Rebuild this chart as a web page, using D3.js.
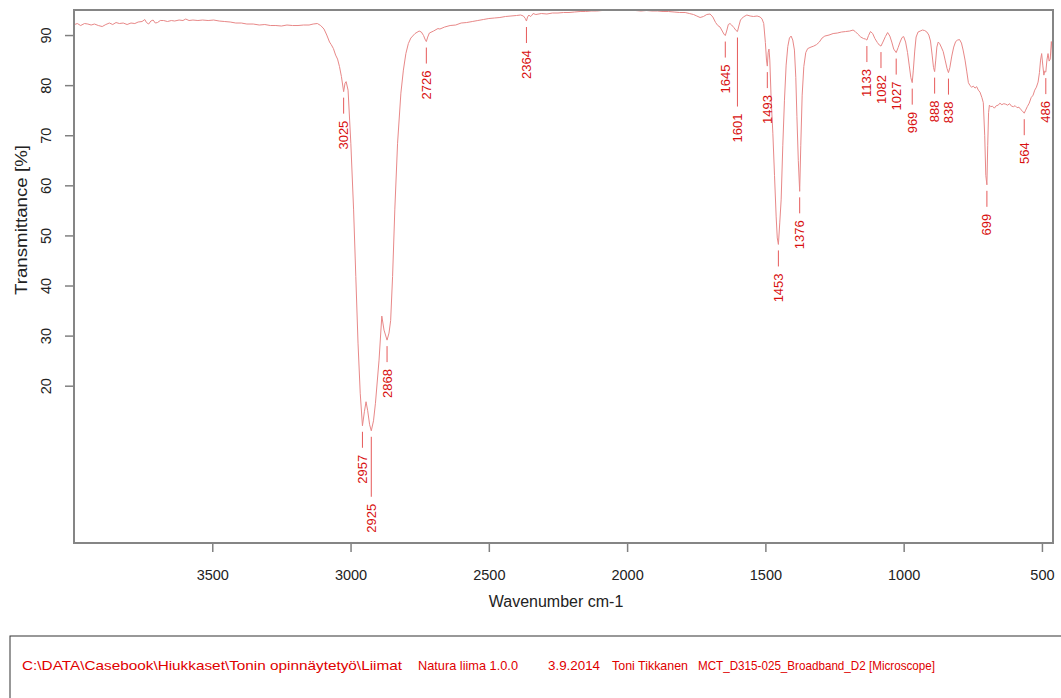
<!DOCTYPE html>
<html>
<head>
<meta charset="utf-8">
<script src="https://cdnjs.cloudflare.com/ajax/libs/d3/7.8.5/d3.min.js"></script>
<style>
body { margin: 0; background: #fff; }
svg { display: block; font-family: "Liberation Sans", Arial, sans-serif; }
</style>
</head>
<body>
<script>

// spectrum (wavenumber cm-1 / transmittance %)
var wavenumber = [
    3998, 3988, 3976, 3962, 3950, 3938, 3926, 3912, 3898, 3885, 3872, 3860, 3848, 3836, 3822, 3808,
    3794, 3780, 3768, 3754, 3744, 3738, 3730, 3722, 3714, 3706, 3698, 3688, 3676, 3662, 3648, 3636,
    3620, 3606, 3596, 3584, 3570, 3552, 3535, 3515, 3495, 3475, 3455, 3435, 3415, 3395, 3375, 3352,
    3330, 3310, 3290, 3270, 3250, 3230, 3210, 3190, 3170, 3150, 3135, 3120, 3108, 3096, 3086, 3076,
    3070, 3062, 3054, 3047, 3040, 3033, 3025, 3020, 3016, 3009, 2999, 2989, 2981, 2973, 2965, 2957,
    2950, 2944, 2938, 2931, 2925, 2917, 2910, 2897, 2887, 2879, 2868, 2861, 2855, 2848, 2840, 2830,
    2818, 2809, 2800, 2791, 2782, 2767, 2752, 2744, 2736, 2731, 2726, 2721, 2715, 2700, 2684, 2677,
    2660, 2640, 2620, 2600, 2580, 2560, 2540, 2520, 2500, 2480, 2460, 2440, 2420, 2400, 2385, 2375,
    2368, 2364, 2360, 2355, 2350, 2345, 2340, 2330, 2310, 2290, 2270, 2250, 2230, 2210, 2190, 2170,
    2150, 2130, 2110, 2090, 2070, 2050, 2030, 2010, 1990, 1970, 1950, 1930, 1910, 1890, 1870, 1850,
    1830, 1810, 1790, 1775, 1760, 1748, 1736, 1724, 1712, 1700, 1690, 1680, 1672, 1664, 1656, 1650,
    1645, 1640, 1634, 1628, 1622, 1614, 1606, 1601, 1596, 1590, 1580, 1567, 1555, 1543, 1530, 1519,
    1512, 1506, 1500, 1496, 1493, 1490, 1487, 1484, 1479, 1473, 1467, 1461, 1457, 1453, 1448, 1443,
    1437, 1431, 1425, 1419, 1413, 1407, 1401, 1395, 1390, 1386, 1381, 1376, 1372, 1367, 1361, 1354,
    1347, 1335, 1325, 1315, 1305, 1295, 1285, 1270, 1255, 1240, 1225, 1210, 1195, 1183, 1175, 1166,
    1155, 1145, 1138, 1133, 1127, 1120, 1112, 1104, 1095, 1088, 1082, 1075, 1066, 1058, 1050, 1043,
    1036, 1027, 1020, 1013, 1006, 1000, 993, 986, 980, 974, 969, 965, 960, 955, 948, 940,
    932, 924, 916, 909, 903, 897, 892, 888, 884, 880, 875, 870, 864, 857, 850, 843,
    838, 833, 826, 819, 812, 805, 798, 791, 785, 778, 772, 766, 760, 754, 748, 742,
    736, 730, 724, 717, 712, 707, 703, 699, 696, 693, 690, 685, 679, 672, 665, 658,
    652, 645, 638, 631, 624, 617, 610, 603, 597, 590, 583, 576, 570, 564, 559, 553,
    546, 539, 532, 526, 520, 514, 509, 505, 501, 497, 493, 490, 486, 482, 478, 474,
    470, 466, 463, 461
];
var transmittance = [
    92.1, 92.3, 91.9, 92.3, 92.2, 92.0, 92.2, 91.9, 91.7, 92.1, 92.4, 92.1, 92.5, 92.3, 92.4, 92.1,
    92.4, 92.3, 92.6, 92.7, 93.1, 92.5, 92.2, 92.8, 93.0, 92.4, 92.5, 92.9, 92.9, 92.7, 92.9, 92.8,
    93.0, 92.9, 93.2, 92.9, 93.0, 92.9, 93.0, 92.9, 93.0, 92.8, 92.7, 92.6, 92.4, 92.4, 92.2, 92.2,
    92.0, 92.1, 91.9, 91.9, 91.8, 92.0, 91.9, 91.9, 92.0, 92.0, 92.2, 92.3, 91.9, 91.2, 90.0, 88.6,
    88.1, 87.3, 86.0, 85.2, 83.7, 81.7, 78.7, 80.4, 80.7, 79.0, 68.4, 55.1, 41.8, 28.5, 18.5, 12.0,
    14.8, 16.8, 15.0, 12.2, 11.0, 13.0, 16.5, 25.1, 33.9, 31.1, 29.1, 30.5, 33.0, 41.8, 55.1, 68.4,
    78.4, 83.0, 86.3, 88.3, 89.4, 90.3, 90.8, 90.6, 89.9, 89.2, 88.7, 89.6, 90.4, 90.8, 91.3, 91.2,
    91.6, 91.9, 92.0, 92.4, 92.5, 92.7, 92.9, 93.1, 93.3, 93.4, 93.5, 93.7, 93.8, 93.9, 94.0, 93.8,
    93.3, 92.8, 93.6, 94.0, 93.7, 93.9, 94.3, 94.1, 94.3, 94.2, 94.4, 94.4, 94.5, 94.5, 94.6, 94.7,
    94.7, 94.8, 94.8, 94.9, 94.9, 95.0, 94.9, 95.0, 94.9, 94.9, 94.8, 94.9, 94.8, 94.8, 94.7, 94.7,
    94.6, 94.5, 94.5, 94.3, 94.1, 93.8, 93.5, 93.7, 94.1, 94.2, 93.6, 92.5, 91.9, 91.6, 90.8, 90.2,
    89.9, 90.8, 92.1, 92.3, 92.0, 91.5, 90.9, 90.7, 91.8, 93.0, 93.6, 94.0, 93.8, 93.7, 93.8, 93.6,
    93.2, 92.3, 88.5, 85.0, 83.8, 86.5, 87.2, 85.0, 77.0, 70.4, 62.0, 53.7, 49.5, 48.2, 52.5, 57.1,
    68.0, 77.0, 84.0, 87.7, 89.4, 89.8, 89.0, 87.0, 81.5, 73.7, 65.0, 58.8, 68.0, 78.0, 83.7, 86.5,
    87.3, 87.6, 87.8, 88.1, 88.6, 89.4, 89.8, 90.0, 90.3, 90.4, 90.6, 90.7, 90.8, 91.0, 90.7, 90.2,
    89.6, 89.3, 89.2, 89.0, 89.9, 90.7, 90.3, 89.3, 88.5, 88.0, 87.8, 88.6, 89.7, 90.5, 89.8, 88.6,
    87.2, 86.5, 87.5, 88.6, 89.5, 89.7, 88.6, 86.5, 84.0, 81.5, 80.5, 83.0, 86.8, 89.6, 90.6, 90.8,
    91.0, 90.9, 90.6, 90.0, 88.8, 86.0, 83.5, 82.7, 85.0, 87.6, 88.6, 88.3, 87.6, 86.7, 85.0, 83.3,
    82.5, 83.5, 85.8, 87.6, 88.7, 89.0, 89.1, 88.4, 87.0, 85.0, 82.8, 80.5, 79.9, 79.6, 79.8, 79.4,
    79.7, 79.0, 78.6, 77.5, 76.5, 70.0, 62.0, 60.1, 68.0, 74.5, 76.0, 75.7, 75.8, 75.4, 75.9, 76.0,
    76.4, 76.1, 76.3, 76.2, 76.0, 76.3, 75.8, 75.7, 75.9, 75.5, 75.6, 75.1, 74.8, 74.4, 75.0, 75.7,
    76.4, 77.5, 78.0, 79.0, 79.6, 80.6, 82.5, 85.0, 86.3, 84.0, 82.0, 82.8, 82.6, 85.0, 86.3, 84.8,
    85.2, 88.7, 87.0, 83.4
];

// picked peaks
var peaks = [3025, 2957, 2925, 2868, 2726, 2364, 1645, 1601, 1493, 1453, 1376,
             1133, 1082, 1027, 969, 888, 838, 699, 564, 486];

var xTicks = [3500, 3000, 2500, 2000, 1500, 1000, 500];
var yTicks = [20, 30, 40, 50, 60, 70, 80, 90];

var footerParts = [
    "C:\\DATA\\Casebook\\Hiukkaset\\Tonin opinnäytetyö\\Liimat",
    "Natura liima 1.0.0",
    "3.9.2014",
    "Toni Tikkanen",
    "MCT_D315-025_Broadband_D2 [Microscope]"
];
var footerX = [22, 418, 548, 612, 698];
var footerW = [380, 100, 52, 76, 237];

var width = 1061;
var height = 698;
var plotLeft = 74, plotTop = 10, plotRight = 1053, plotBottom = 543;

var svg = d3.select("body").append("svg")
    .attr("width", width)
    .attr("height", height);

var x = d3.scaleLinear().domain([4000, 460]).range([plotLeft, plotRight]);
var y = d3.scaleLinear().domain([-11.4, 95]).range([plotBottom, plotTop]);

var data = wavenumber.map(function(w, i) {
    return {w: w, t: transmittance[i]};
});

svg.append("clipPath").attr("id", "plotclip")
    .append("rect")
    .attr("x", plotLeft).attr("y", plotTop)
    .attr("width", plotRight - plotLeft).attr("height", plotBottom - plotTop);

// spectrum line
svg.append("path")
    .datum(data)
    .attr("clip-path", "url(#plotclip)")
    .attr("fill", "none")
    .attr("stroke", "#e88888")
    .attr("stroke-width", 1)
    .attr("d", d3.line()
        .x(function(d) { return x(d.w); })
        .y(function(d) { return y(d.t); }));

// x axis
var gx = svg.append("g")
    .attr("transform", "translate(0," + plotBottom + ")")
    .call(d3.axisBottom(x).tickValues(xTicks).tickSize(9).tickSizeOuter(0).tickPadding(18)
        .tickFormat(d3.format("d")));
gx.select(".domain").remove();
gx.selectAll(".tick line").attr("stroke", "#808080").attr("stroke-width", 1.5);
gx.selectAll(".tick text")
    .attr("fill", "#222")
    .style("font-size", "14.5px")
    .style("font-family", "Liberation Sans, Arial, sans-serif");

// y axis, labels turned on their side
var gy = svg.append("g")
    .attr("transform", "translate(" + plotLeft + ",0)")
    .call(d3.axisLeft(y).tickValues(yTicks).tickSize(9).tickSizeOuter(0));
gy.select(".domain").remove();
gy.selectAll(".tick line").attr("stroke", "#808080").attr("stroke-width", 1.5);
gy.selectAll(".tick text")
    .attr("x", null)
    .attr("dy", "0.35em")
    .attr("text-anchor", "middle")
    .attr("transform", "translate(-28,0) rotate(-90)")
    .attr("fill", "#222")
    .style("font-size", "14.5px")
    .style("font-family", "Liberation Sans, Arial, sans-serif");

// frame
svg.append("rect")
    .attr("x", plotLeft).attr("y", plotTop)
    .attr("width", plotRight - plotLeft).attr("height", plotBottom - plotTop)
    .attr("fill", "none")
    .attr("stroke", "#858585")
    .attr("stroke-width", 2);

// axis titles
svg.append("text")
    .attr("x", 556).attr("y", 601)
    .attr("dy", "0.35em")
    .attr("text-anchor", "middle")
    .attr("fill", "#222")
    .style("font-size", "16px")
    .text("Wavenumber cm-1");

svg.append("text")
    .attr("transform", "translate(21,220) rotate(-90)")
    .attr("dy", "0.35em")
    .attr("text-anchor", "middle")
    .attr("fill", "#222")
    .attr("textLength", 150)
    .attr("lengthAdjust", "spacingAndGlyphs")
    .style("font-size", "16.5px")
    .text("Transmittance [%]");

// peak labels: leader line under each minimum, then the number;
// a label that would collide with its left neighbour is pushed below it
var placed = [];
peaks.forEach(function(p) {
    var near = data.filter(function(d) { return Math.abs(d.w - p) <= 4; });
    var tmin = d3.min(near, function(d) { return d.t; });
    var px = x(p);
    var py = y(tmin);
    var len = String(p).length * 7.25;
    var textTop = py + 29;
    placed.forEach(function(o) {
        if (Math.abs(o.px - px) < 13 && textTop < o.bottom + 20 && textTop + len > o.top - 4) {
            textTop = o.bottom + 20;
        }
    });
    placed.push({px: px, top: textTop, bottom: textTop + len});

    svg.append("line")
        .attr("x1", px).attr("x2", px)
        .attr("y1", py + 6).attr("y2", textTop - 7)
        .attr("stroke", "#e65a5a")
        .attr("stroke-width", 1);

    svg.append("text")
        .attr("transform", "translate(" + px + "," + textTop + ") rotate(-90)")
        .attr("dy", "0.35em")
        .attr("text-anchor", "end")
        .attr("fill", "#d81010")
        .style("font-size", "13px")
        .text(p);
});

// footer box with file info
svg.append("rect")
    .attr("x", 10).attr("y", 636)
    .attr("width", 1070).attr("height", 100)
    .attr("fill", "none")
    .attr("stroke", "#333")
    .attr("stroke-width", 1);

svg.selectAll(".footer")
    .data(footerParts)
    .enter()
    .append("text")
    .attr("class", "footer")
    .attr("x", function(d, i) { return footerX[i]; })
    .attr("y", 670)
    .attr("textLength", function(d, i) { return footerW[i]; })
    .attr("lengthAdjust", "spacingAndGlyphs")
    .attr("fill", "#e00000")
    .style("font-size", "13px")
    .text(function(d) { return d; });

</script>
</body>
</html>
